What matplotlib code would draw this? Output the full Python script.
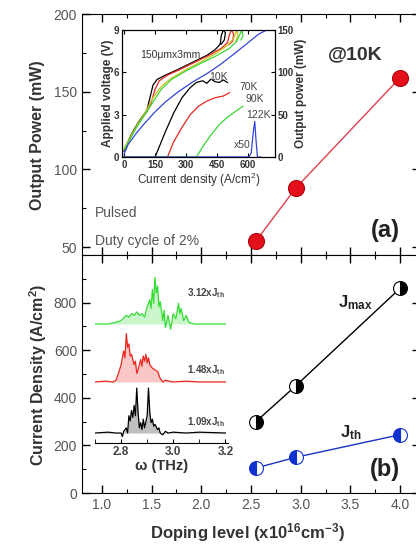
import matplotlib
matplotlib.use("Agg")
import matplotlib.pyplot as plt
from matplotlib.ticker import MultipleLocator

plt.rcParams['font.family'] = ['Liberation Sans', 'DejaVu Sans']
plt.rcParams['mathtext.fontset'] = 'custom'
plt.rcParams['mathtext.rm'] = 'Liberation Sans'
plt.rcParams['mathtext.bf'] = 'Liberation Sans:bold'
plt.rcParams['mathtext.it'] = 'Liberation Sans:italic'

# ── data: main panels ────────────────────────────────────────────────────────
doping = [2.55, 2.95, 4.0]
power_10k = [54, 88, 159]
j_max = [300, 450, 860]
j_th = [105, 150, 245]

# ── data: inset (a), I-V curves (left axis, V) ───────────────────────────────
iv_10k_j = [0, 25, 50, 80, 110, 125, 140, 160, 200, 260, 330, 400, 440, 465, 470, 480, 490, 485, 470]
iv_10k_v = [0.4, 1.3, 2.0, 2.7, 3.3, 4.2, 5.1, 5.5, 5.8, 6.2, 6.7, 7.2, 7.6, 8.0, 8.6, 9.0, 8.8, 8.3, 8.0]
iv_70k_j = [0, 25, 50, 80, 110, 130, 150, 170, 210, 270, 340, 410, 470, 500, 510, 520, 530, 525, 510]
iv_70k_v = [0.5, 1.2, 1.9, 2.6, 3.2, 3.8, 4.8, 5.4, 5.8, 6.2, 6.7, 7.2, 7.7, 8.1, 8.7, 9.0, 8.7, 8.2, 8.0]
iv_80k_j = [0, 30, 60, 100, 140, 180, 230, 300, 380, 450, 500, 530, 545, 550, 540]
iv_80k_v = [0.6, 1.4, 2.2, 3.1, 4.2, 5.0, 5.6, 6.2, 6.8, 7.4, 7.9, 8.4, 9.0, 8.6, 8.2]
iv_90k_j = [0, 30, 60, 100, 140, 180, 230, 300, 380, 450, 510, 545, 560, 570, 575, 565]
iv_90k_v = [0.5, 1.3, 2.1, 3.0, 3.9, 4.8, 5.5, 6.1, 6.7, 7.2, 7.7, 8.2, 8.7, 9.0, 8.6, 8.3]
iv_122k_j = [0, 20, 60, 100, 150, 200, 260, 330, 400, 470, 540, 600, 650, 690]
iv_122k_v = [0.2, 0.9, 1.7, 2.4, 3.2, 3.9, 4.6, 5.3, 5.9, 6.6, 7.4, 8.1, 8.7, 9.0]

# ── data: inset (a), L-I curves (right axis, mW) ─────────────────────────────
li_10k_j = [0, 150, 170, 200, 240, 280, 320, 350, 380, 400, 420, 440, 460, 480, 500]
li_10k_p = [0, 0, 12, 30, 52, 70, 82, 88, 90, 87, 92, 89, 88, 91, 88]
li_70k_j = [0, 210, 240, 280, 320, 360, 400, 440, 480, 510]
li_70k_p = [0, 0, 18, 35, 50, 60, 66, 70, 72, 76]
li_90k_j = [0, 350, 380, 420, 460, 500, 540, 575]
li_90k_p = [0, 0, 12, 26, 38, 47, 54, 60]
li_122k_j = [0, 605, 615, 625, 632, 638, 645, 660]
li_122k_p = [0, 0, 5, 30, 42, 20, 0, 0]

# ── data: inset (b), spectra (relative intensity) ────────────────────────────
spec_f_109 = [2.70, 2.75, 2.78, 2.80, 2.805, 2.81, 2.82, 2.825, 2.83, 2.835, 2.84, 2.845, 2.85,
              2.855, 2.86, 2.865, 2.87, 2.875, 2.88, 2.885, 2.89, 2.90, 2.905, 2.91, 2.915, 2.92,
              2.925, 2.93, 2.94, 2.945, 2.95, 2.96, 2.97, 2.98, 3.00, 3.05, 3.10, 3.20]
spec_i_109 = [0.0, 0.005, 0.0, 0.0, -0.02, 0.01, 0.03, 0.0, 0.10, 0.07, 0.13, 0.09, 0.16,
              0.10, 0.26, 0.12, 0.03, 0.06, 0.02, 0.08, 0.03, 0.10, 0.26, 0.12, 0.06, 0.08,
              0.04, 0.05, 0.02, 0.03, 0.0, -0.01, 0.01, 0.0, 0.005, 0.0, 0.005, 0.0]
spec_f_148 = [2.70, 2.74, 2.77, 2.78, 2.79, 2.80, 2.81, 2.815, 2.82, 2.825, 2.83, 2.835, 2.84,
              2.85, 2.855, 2.86, 2.865, 2.87, 2.875, 2.88, 2.885, 2.89, 2.895, 2.90, 2.905,
              2.91, 2.92, 2.93, 2.94, 2.95, 2.96, 2.97, 3.00, 3.05, 3.10, 3.20]
spec_i_148 = [0.0, 0.005, 0.0, 0.01, 0.05, 0.10, 0.18, 0.14, 0.28, 0.20, 0.22, 0.15, 0.16,
              0.10, 0.12, 0.05, 0.07, 0.10, 0.13, 0.09, 0.15, 0.12, 0.16, 0.11, 0.14,
              0.10, 0.08, 0.07, 0.06, 0.02, 0.0, 0.01, 0.0, 0.005, 0.0, 0.0]
spec_f_312 = [2.70, 2.75, 2.78, 2.80, 2.82, 2.83, 2.84, 2.85, 2.86, 2.87, 2.88, 2.89, 2.90,
              2.91, 2.915, 2.92, 2.925, 2.93, 2.935, 2.94, 2.945, 2.95, 2.96, 2.965, 2.97,
              2.98, 2.99, 3.00, 3.01, 3.02, 3.025, 3.03, 3.04, 3.05, 3.06, 3.08, 3.10, 3.20]
spec_i_312 = [0.0, 0.0, 0.01, 0.02, 0.05, 0.04, 0.06, 0.05, 0.07, 0.05, 0.06, 0.04, 0.10,
              0.14, 0.09, 0.20, 0.12, 0.27, 0.18, 0.22, 0.10, 0.13, 0.02, 0.08, -0.02,
              0.05, -0.03, 0.06, 0.03, 0.12, 0.06, 0.09, 0.02, 0.05, 0.01, 0.0, 0.0, 0.0]

# ── figure and main panels ───────────────────────────────────────────────────
fig = plt.figure(figsize=(4.16, 5.47), dpi=100)
ax_top = fig.add_axes([0.197, 0.5338, 0.8125, 0.4406])
ax_bot = fig.add_axes([0.197, 0.0987, 0.8125, 0.4351], sharex=ax_top)

for ax in (ax_top, ax_bot):
    ax.tick_params(which='both', direction='in', top=True, right=True,
                   labelsize=10, labelcolor='#555555')
    ax.tick_params(which='major', length=6, width=1)
    ax.tick_params(which='minor', length=3, width=0.8)
    ax.xaxis.set_major_locator(MultipleLocator(0.5))
    ax.xaxis.set_minor_locator(MultipleLocator(0.25))

ax_top.set_xlim(0.8, 4.2)
ax_top.set_ylim(45, 200)
ax_top.yaxis.set_major_locator(MultipleLocator(50))
ax_top.yaxis.set_minor_locator(MultipleLocator(25))
ax_top.tick_params(labelbottom=False)

ax_top.plot(doping, power_10k, color='#e04050', lw=1, zorder=2)
ax_top.plot(doping, power_10k, 'o', ms=11.5, mfc='#e3101c', mec='#b0000c', mew=0.8, zorder=3)

ax_top.text(3.55, 174, '@10K', fontsize=14, fontweight='bold', color='#333333',
            ha='center', va='center')
ax_top.text(3.85, 61, '(a)', fontsize=17, fontweight='bold', color='#222222',
            ha='center', va='center')
ax_top.text(0.93, 72, 'Pulsed', fontsize=10, color='#555555', va='center')
ax_top.text(0.93, 54, 'Duty cycle of 2%', fontsize=10, color='#555555', va='center')

ax_bot.set_ylim(0, 1000)
ax_bot.yaxis.set_minor_locator(MultipleLocator(100))
ax_bot.set_yticks([0, 200, 400, 600, 800])

ax_bot.plot(doping, j_max, color='black', lw=1, zorder=2)
ax_bot.plot(doping, j_max, 'o', ms=10, fillstyle='right', mfc='black',
            markerfacecoloralt='white', mec='black', mew=0.8, zorder=3)
ax_bot.plot(doping, j_th, color='#1a33c0', lw=1, zorder=2)
ax_bot.plot(doping, j_th, 'o', ms=10, fillstyle='left', mfc='#1030d0',
            markerfacecoloralt='white', mec='#1030d0', mew=0.8, zorder=3)

ax_bot.text(3.55, 800, 'J$_{\\mathbf{max}}$', fontsize=12, fontweight='bold', color='#222222',
            ha='center', va='center')
ax_bot.text(3.5, 255, 'J$_{\\mathbf{th}}$', fontsize=12, fontweight='bold', color='#222222',
            ha='center', va='center')
ax_bot.text(3.85, 100, '(b)', fontsize=17, fontweight='bold', color='#222222',
            ha='center', va='center')

fig.text(0.091, 0.753, 'Output Power (mW)', rotation=90, fontsize=11.5,
         fontweight='bold', color='#333333', ha='center', va='center')
fig.text(0.091, 0.315, 'Current Density (A/cm$^\\mathbf{2}$)', rotation=90, fontsize=11.5,
         fontweight='bold', color='#333333', ha='center', va='center')
fig.text(0.594, 0.026, 'Doping level (x10$^{\\mathbf{16}}$cm$^{\\mathbf{-3}}$)', fontsize=12,
         fontweight='bold', color='#333333', ha='center', va='center')

# ── inset (a): I-V and L-I ───────────────────────────────────────────────────
ax_a = fig.add_axes([0.2933, 0.713, 0.3678, 0.2322])
ax_a.set_xlim(-10, 730)
ax_a.set_ylim(0, 9)
ax_ap = ax_a.twinx()
ax_ap.set_ylim(0, 150)

iv_sets = [(iv_10k_j, iv_10k_v, 'black'), (iv_70k_j, iv_70k_v, '#e8261d'),
           (iv_80k_j, iv_80k_v, '#c9c21e'), (iv_90k_j, iv_90k_v, '#39d839'),
           (iv_122k_j, iv_122k_v, '#3344dd')]
for jj, vv, c in iv_sets:
    ax_a.plot(jj, vv, color=c, lw=0.9)

li_sets = [(li_10k_j, li_10k_p, 'black'), (li_70k_j, li_70k_p, '#e8261d'),
           (li_90k_j, li_90k_p, '#39d839'), (li_122k_j, li_122k_p, '#3344dd')]
for jj, pp, c in li_sets:
    ax_ap.plot(jj, pp, color=c, lw=0.9)

ax_a.set_xticks([0, 150, 300, 450, 600])
ax_a.set_yticks([0, 3, 6, 9])
ax_ap.set_yticks([0, 50, 100, 150])
for ax in (ax_a, ax_ap):
    ax.tick_params(direction='in', length=3, labelsize=7, labelcolor='#333333', pad=2)
    for lbl in ax.get_xticklabels() + ax.get_yticklabels():
        lbl.set_fontweight('bold')
ax_a.tick_params(top=True)
ax_a.set_xlabel('Current density (A/cm$^2$)', fontsize=8.5, color='#333333', labelpad=1)
ax_a.set_ylabel('Applied voltage (V)', fontsize=8.5, fontweight='bold', color='#333333',
                labelpad=0)
ax_ap.set_ylabel('Output power (mW)', fontsize=8.5, fontweight='bold', color='#333333',
                 labelpad=1)

ax_ap.text(222, 120, '150\u03bcmx3mm', fontsize=7.5, color='#333333', ha='center', va='center')
ax_ap.text(455, 95, '10K', fontsize=7.5, color='#444444', ha='center', va='center')
ax_ap.text(600, 83, '70K', fontsize=7.5, color='#444444', ha='center', va='center')
ax_ap.text(634, 68, '90K', fontsize=7.5, color='#444444', ha='center', va='center')
ax_ap.text(648, 50, '122K', fontsize=7.5, color='#444444', ha='center', va='center')
ax_ap.text(571, 14, 'x50', fontsize=7.5, color='#444444', ha='center', va='center')

# ── inset (b): spectra ───────────────────────────────────────────────────────
ax_b = fig.add_axes([0.2284, 0.190, 0.3197, 0.3163])
ax_b.patch.set_alpha(0)
ax_b.set_xlim(2.70, 3.21)
ax_b.set_ylim(0, 1)
for side in ('left', 'right', 'top'):
    ax_b.spines[side].set_visible(False)
ax_b.set_yticks([])
ax_b.set_xticks([2.8, 3.0, 3.2])
ax_b.xaxis.set_minor_locator(MultipleLocator(0.1))
ax_b.tick_params(which='both', direction='in', length=3, labelsize=8.5, labelcolor='#444444',
                 pad=2)
for lbl in ax_b.get_xticklabels():
    lbl.set_fontweight('bold')
ax_b.set_xlabel('\u03c9 (THz)', fontsize=10.5, fontweight='bold', color='#333333', labelpad=1)

spectra = [(spec_f_109, spec_i_109, 0.058, 0.121, 'black', '1.09xJ'),
           (spec_f_148, spec_i_148, 0.353, 0.422, '#e8261d', '1.48xJ'),
           (spec_f_312, spec_i_312, 0.688, 0.867, '#33dd33', '3.12xJ')]
for ff, ii, base, ylab, c, lab in spectra:
    yy = [base + v for v in ii]
    ax_b.fill_between(ff, base, yy, color=c, alpha=0.25, lw=0)
    ax_b.plot(ff, yy, color=c, lw=0.9)
    ax_b.text(3.2, ylab, lab + '$_{\\mathbf{th}}$', fontsize=7, fontweight='bold',
              color='#444444', ha='right', va='center')

fig.savefig('out.png', dpi=100)
